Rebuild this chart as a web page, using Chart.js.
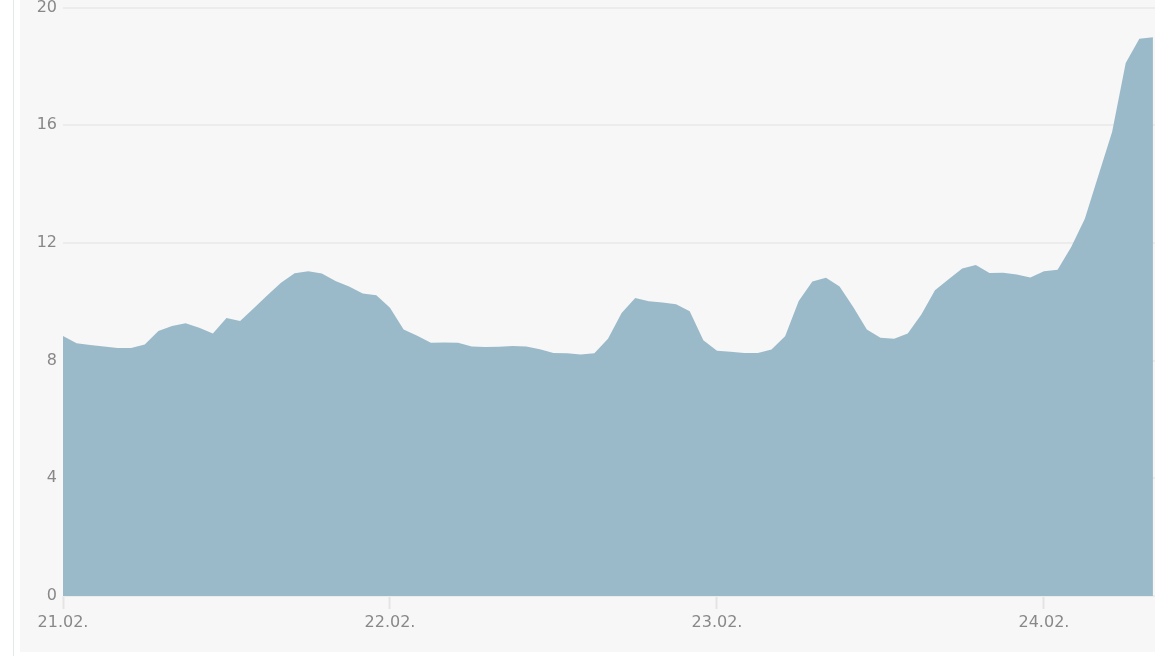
<!DOCTYPE html>
<html lang="de">
<head>
    <meta charset="UTF-8">
    <title>Verlauf</title>
    <script src="https://cdn.jsdelivr.net/npm/chart.js"></script>
    <style>
        body { margin: 0; background: #ffffff; }
        .linha { position: absolute; left: 13px; top: 0; width: 1px; height: 656px; background: #e2e9ed; }
        .painel { position: absolute; left: 20px; top: 0; width: 1135px; height: 652px; background: #f7f7f7; overflow: hidden; }
        .grafico { position: absolute; left: 0; top: -8px; width: 1135px; height: 660px; }
    </style>
</head>

<body>
    <div class="linha"></div>
    <div class="painel">
        <div class="grafico">
            <canvas id="myChartCanvas1"></canvas>
        </div>
    </div>
</body>

</html>
<script>
    // dados (um valor por hora)
    var dias = ['21.02.', '22.02.', '23.02.', '24.02.'];
    var horasPorDia = 24;
    var valores = [
        8.84, 8.59, 8.53, 8.48, 8.43, 8.43, 8.55, 9.01, 9.18, 9.27, 9.12, 8.92,
        9.45, 9.35, 9.78, 10.22, 10.65, 10.97, 11.04, 10.96, 10.71, 10.52, 10.28, 10.22,
        9.80, 9.06, 8.85, 8.61, 8.62, 8.61, 8.48, 8.46, 8.47, 8.50, 8.48, 8.39,
        8.26, 8.25, 8.21, 8.25, 8.74, 9.62, 10.13, 10.02, 9.98, 9.92, 9.68, 8.69,
        8.34, 8.30, 8.26, 8.26, 8.38, 8.83, 10.03, 10.69, 10.82, 10.52, 9.82, 9.06,
        8.78, 8.74, 8.92, 9.57, 10.39, 10.77, 11.13, 11.25, 10.98, 10.99, 10.93, 10.83,
        11.04, 11.09, 11.86, 12.82, 14.30, 15.77, 18.12, 18.94, 18.99
    ];
    var eixoY = { min: 0, max: 20, passo: 4 };

    var pontos = [];
    for (var i = 0; i < valores.length; i++) {
        pontos.push({ x: i, y: valores[i] });
    }

    var fonteEixo = { family: 'DejaVu Sans', size: 16 };

    const config = {
        type: 'line',
        data: {
            datasets: [{
                data: pontos,
                backgroundColor: '#9bbac9',
                borderWidth: 0,
                pointRadius: 0,
                tension: 0,
                fill: 'origin'
            }]
        },
        options: {
            responsive: true,
            maintainAspectRatio: false,
            animation: false,
            layout: { padding: 0 },
            plugins: {
                legend: { display: false },
                tooltip: { enabled: false }
            },
            scales: {
                x: {
                    type: 'linear',
                    min: 0,
                    max: valores.length - 1 + 0.15,
                    afterBuildTicks: function (scale) {
                        scale.ticks = dias.map(function (d, n) { return { value: n * horasPorDia }; });
                    },
                    afterFit: function (scale) { scale.height = 56; },
                    ticks: {
                        autoSkip: false,
                        maxRotation: 0,
                        padding: 4,
                        color: '#888888',
                        font: fonteEixo,
                        callback: function (value) { return dias[value / horasPorDia]; }
                    },
                    grid: {
                        drawOnChartArea: false,
                        tickLength: 13,
                        tickColor: '#e4e4e4',
                        tickWidth: 2
                    },
                    border: { display: false }
                },
                y: {
                    min: eixoY.min,
                    max: eixoY.max,
                    afterFit: function (scale) { scale.width = 43; },
                    ticks: {
                        stepSize: eixoY.passo,
                        padding: 6,
                        color: '#888888',
                        font: fonteEixo
                    },
                    grid: {
                        color: '#ececec',
                        lineWidth: 2,
                        drawTicks: false
                    },
                    border: { display: false }
                }
            }
        }
    };

    let myChart = new Chart(document.getElementById('myChartCanvas1'), config);
</script>
